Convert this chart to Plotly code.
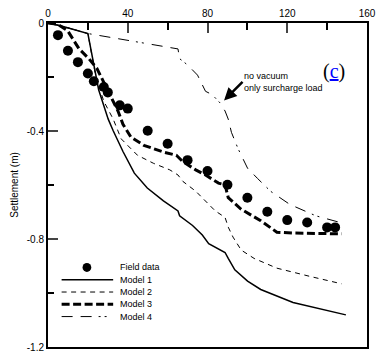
import plotly.graph_objects as go

# Field data
x_field = [5, 10, 15, 20, 23, 28, 30, 36, 40, 50, 60, 70, 80, 90, 100, 110, 120, 130, 140, 144]
y_field = [-0.045, -0.103, -0.145, -0.187, -0.216, -0.237, -0.257, -0.305, -0.317, -0.399,
           -0.447, -0.508, -0.548, -0.599, -0.647, -0.699, -0.730, -0.739, -0.757, -0.757]

# Model 1
x_m1 = [0, 6.7, 20, 25.4, 30.2, 32.7, 37.6, 43.3, 49.8, 57.9, 65.2, 66, 72.5, 77.4, 80.6,
        88.8, 90.4, 93.7, 100.1, 106.7, 122.9, 139.2, 149.4]
y_m1 = [0, -0.011, -0.039, -0.247, -0.356, -0.399, -0.476, -0.556, -0.611, -0.659, -0.696,
        -0.714, -0.750, -0.785, -0.817, -0.850, -0.872, -0.914, -0.956, -0.987, -1.035, -1.065, -1.081]

# Model 2
x_m2 = [0, 6.7, 20, 24, 28, 32.7, 36.7, 44.9, 53, 61.1, 65.2, 67.7, 74.1, 77.4, 83.9, 88.8,
        90.4, 92.8, 96.9, 103.4, 114.8, 131.1, 147.3]
y_m2 = [0, -0.011, -0.039, -0.2, -0.29, -0.356, -0.429, -0.49, -0.52, -0.544, -0.563, -0.587,
        -0.623, -0.647, -0.696, -0.72, -0.756, -0.793, -0.841, -0.872, -0.908, -0.938, -0.966]

# Model 3
x_m3 = [0, 5, 9.9, 15.6, 20.5, 24.5, 27.8, 31.1, 35.1, 37.6, 41.6, 48.1, 57.9, 64.4, 67.7,
        74.1, 79, 85.5, 88.8, 90.4, 96.9, 106.7, 114.8, 122.9, 147.3]
y_m3 = [0, -0.005, -0.029, -0.096, -0.132, -0.168, -0.217, -0.265, -0.326, -0.375, -0.423,
        -0.453, -0.478, -0.49, -0.514, -0.544, -0.563, -0.593, -0.599, -0.647, -0.69, -0.732,
        -0.775, -0.778, -0.781]

# Model 4
x_m4 = [0, 6.7, 20, 65.2, 66, 70.1, 75, 79, 82.3, 86.3, 88.8, 90.4, 91.2, 92, 95.3, 100.1,
        105, 111.6, 121.3, 134.3, 148.1]
y_m4 = [0, -0.011, -0.039, -0.096, -0.132, -0.156, -0.193, -0.253, -0.265, -0.296, -0.326,
        -0.356, -0.38, -0.405, -0.465, -0.538, -0.575, -0.623, -0.672, -0.714, -0.742]

x_ticks = [0, 40, 80, 120, 160]
y_ticks = [0, -0.4, -0.8, -1.2]
y_ticktext = ["0", "-0.4", "-0.8", "-1.2"]
series_names = ["Field data", "Model 1", "Model 2", "Model 3", "Model 4"]

FONT = "Arial, Liberation Sans, sans-serif"
W, H = 384, 361
ML, MR, MT, MB = 48, 8, 22, 9
PW, PH = W - ML - MR, H - MT - MB


def px(xp):
    return (xp - ML) / PW


def py(yp):
    return 1 - (yp - MT) / PH


styles = [
    None,
    dict(color="black", width=1.5),
    dict(color="black", width=1, dash="5px,4.5px"),
    dict(color="black", width=3, dash="8px,3.5px"),
    dict(color="black", width=1, dash="11px,8px,11px,7px,2px,4px,2px,8px"),
]

fig = go.Figure()
fig.add_trace(go.Scatter(x=x_field, y=y_field, mode="markers", name=series_names[0],
                         marker=dict(color="black", size=10)))
for xs, ys, nm, st in zip([x_m1, x_m2, x_m3, x_m4], [y_m1, y_m2, y_m3, y_m4],
                          series_names[1:], styles[1:]):
    fig.add_trace(go.Scatter(x=xs, y=ys, mode="lines", name=nm, line=st))

# manual legend (compact rows as in the original)
shapes = []
annotations = []
row_y = [271, 283.5, 296, 308.5, 321]
for i, nm in enumerate(series_names):
    yy = py(row_y[i])
    if i == 0:
        shapes.append(dict(type="circle", xref="paper", yref="paper",
                           x0=px(83.5), x1=px(92.5), y0=yy - 4.5 / PH, y1=yy + 4.5 / PH,
                           fillcolor="black", line=dict(color="black", width=0)))
    else:
        shapes.append(dict(type="line", xref="paper", yref="paper",
                           x0=px(62), x1=px(115), y0=yy, y1=yy, line=styles[i]))
    annotations.append(dict(x=px(120), y=yy, xref="paper", yref="paper", text=nm,
                            xanchor="left", yanchor="middle", showarrow=False,
                            font=dict(size=9, family=FONT)))

annotations += [
    dict(x=88.3, y=-0.287, xref="x", yref="y", text="", showarrow=True,
         ax=20, ay=-20, arrowhead=2, arrowsize=1, arrowwidth=2.5, arrowcolor="black"),
    dict(x=97.5, y=-0.218, xref="x", yref="y", xanchor="left", yanchor="middle",
         text="no vacuum<br>only surcharge load", showarrow=False, align="left",
         font=dict(size=9, family=FONT)),
    dict(x=143.5, y=-0.178, xref="x", yref="y", xanchor="center", yanchor="middle",
         text="(<span style='color:blue'><u>c</u></span>)", showarrow=False,
         font=dict(size=20, family="Liberation Serif, Times New Roman, serif")),
]

fig.update_layout(
    width=W, height=H,
    margin=dict(l=ML, r=MR, t=MT, b=MB),
    paper_bgcolor="white", plot_bgcolor="white",
    font=dict(family=FONT, size=10, color="black"),
    showlegend=False,
    xaxis=dict(range=[0, 160], side="top", tickvals=x_ticks, ticks="inside", ticklen=10,
               tickwidth=1.5, showgrid=False, zeroline=False, showline=True,
               linecolor="black", linewidth=2, mirror=True,
               tickfont=dict(size=10, family=FONT),
               minor=dict(dtick=20, ticks="inside", ticklen=7, tickwidth=1.5, tickcolor="black")),
    yaxis=dict(range=[-1.2, 0], tickvals=y_ticks, ticktext=y_ticktext,
               ticks="inside", ticklen=10, tickwidth=1.5, showgrid=False, zeroline=False,
               showline=True, linecolor="black", linewidth=2, mirror=True,
               tickfont=dict(size=10, family=FONT),
               title=dict(text="Settlement (m)", font=dict(size=10, family=FONT), standoff=6),
               minor=dict(dtick=0.2, ticks="inside", ticklen=6, tickwidth=1.5, tickcolor="black")),
    shapes=shapes,
    annotations=annotations,
)

fig.write_html("out.html")
